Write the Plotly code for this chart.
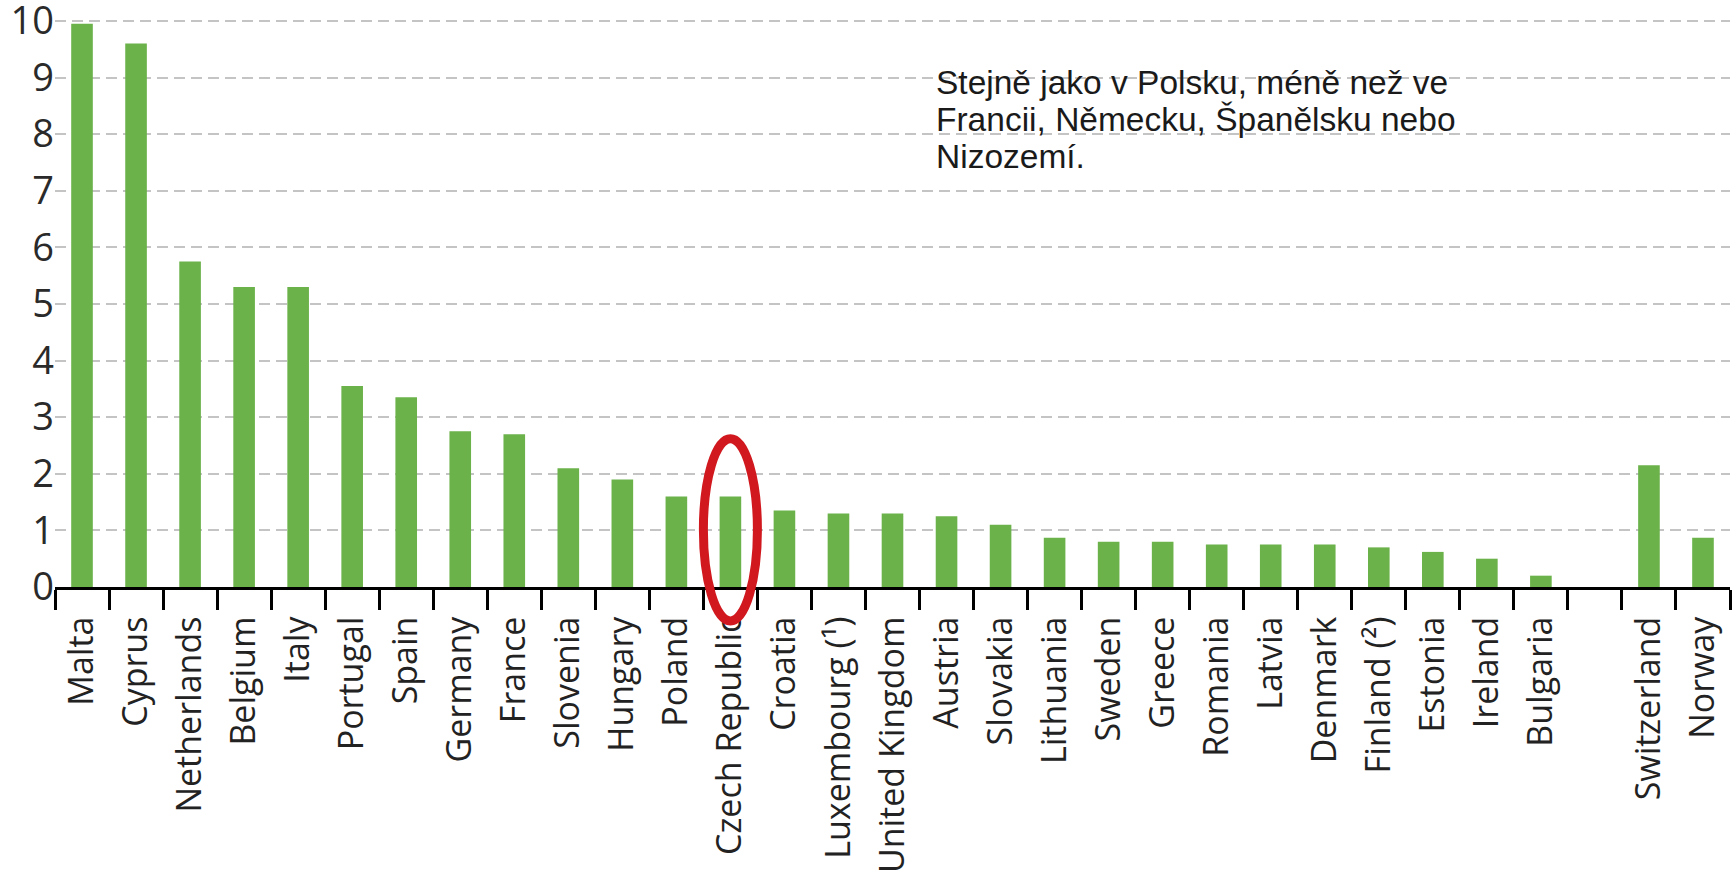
import plotly.graph_objects as go

# Countries in display order; the blank entry separates EU members from EFTA countries
countries = [
    "Malta", "Cyprus", "Netherlands", "Belgium", "Italy", "Portugal", "Spain",
    "Germany", "France", "Slovenia", "Hungary", "Poland", "Czech Republic",
    "Croatia", "Luxembourg (¹)", "United Kingdom", "Austria", "Slovakia",
    "Lithuania", "Sweden", "Greece", "Romania", "Latvia", "Denmark",
    "Finland (²)", "Estonia", "Ireland", "Bulgaria", " ", "Switzerland", "Norway",
]
values = [
    9.95, 9.6, 5.75, 5.3, 5.3, 3.55, 3.35,
    2.75, 2.7, 2.1, 1.9, 1.6, 1.6,
    1.35, 1.3, 1.3, 1.25, 1.1,
    0.87, 0.8, 0.8, 0.75, 0.75, 0.75,
    0.7, 0.62, 0.5, 0.2, None, 2.15, 0.87,
]
y_ticks = list(range(0, 11))

note_lines = [
    "Stejně jako v Polsku, méně než ve",
    "Francii, Německu, Španělsku nebo",
    "Nizozemí.",
]
highlight = "Czech Republic"

Y_MAX = 10.37
BAR_GREEN = "#6bb24a"
RING_RED = "#d0181e"

fig = go.Figure(
    go.Bar(
        x=countries,
        y=values,
        marker=dict(color=BAR_GREEN, line=dict(width=0)),
        hoverinfo="x+y",
    )
)

# Red ring around the highlighted country's bar (drawn in paper space so it can
# run past the axis line onto the tick labels)
n = len(countries)
idx = countries.index(highlight)
cx = (idx + 0.5) / n
half_w = 0.5 / n
ring_top, ring_bottom = 2.62 / Y_MAX, -0.6 / Y_MAX
cy = (ring_top + ring_bottom) / 2
ry = (ring_top - ring_bottom) / 2
fig.add_shape(
    type="circle",
    xref="paper", yref="paper",
    x0=cx - half_w, x1=cx + half_w,
    y0=cy - ry, y1=cy + ry,
    line=dict(color=RING_RED, width=9),
    layer="above",
)

# Explanatory note, one annotation per line for tight line spacing
line_centers_px = [82, 119, 156]
plot_h = 587
for text, py in zip(note_lines, line_centers_px):
    fig.add_annotation(
        text=text,
        xref="paper", yref="paper",
        x=0.525, y=1 - py / plot_h,
        xanchor="left", yanchor="middle",
        showarrow=False,
        font=dict(family="Liberation Sans, Arial", size=33.5, color="#1a1a1a"),
    )

fig.update_layout(
    width=1732, height=878,
    margin=dict(l=55, r=2, t=0, b=291),
    paper_bgcolor="white",
    plot_bgcolor="white",
    bargap=0.6,
    showlegend=False,
)

fig.update_xaxes(
    type="category",
    categoryorder="array",
    categoryarray=countries,
    range=[-0.5, n - 0.5],
    automargin=False,
    tickson="boundaries",
    ticks="outside",
    ticklen=20,
    tickwidth=3,
    tickcolor="black",
    showline=True,
    linecolor="black",
    linewidth=3,
    tickangle=-90,
    ticklabelstandoff=13,
    tickfont=dict(family="Open Sans", size=34, color="#222222"),
    showgrid=False,
)

fig.update_yaxes(
    range=[0, Y_MAX],
    automargin=False,
    tickvals=y_ticks,
    ticktext=[str(v) for v in y_ticks],
    ticklabeloverflow="allow",
    tickfont=dict(family="Open Sans", size=38, color="#2a2a2a"),
    showgrid=True,
    gridcolor="#c4c4c4",
    gridwidth=2,
    griddash="11px,6px",
    zeroline=False,
    showline=False,
    ticks="",
)

fig.write_html("out.html")
